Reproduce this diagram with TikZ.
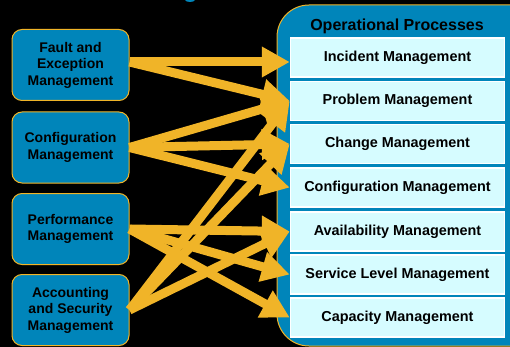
\documentclass[tikz,border=0pt]{standalone}
\usepackage{fontspec}
\setmainfont{Liberation Sans}
\usetikzlibrary{arrows.meta}
\definecolor{boxblue}{RGB}{0,133,186}
\definecolor{gold}{RGB}{240,180,40}
\definecolor{paleCyan}{RGB}{214,252,255}
\tikzset{area/.style={draw=gold, fill=boxblue, line width=1pt, rounded corners=10pt,
         minimum width=117pt, minimum height=71pt, align=center,
         font=\fontsize{14}{16.5}\selectfont\bfseries},
         process/.style={draw=white, fill=paleCyan, line width=1.5pt,
         minimum width=214pt, minimum height=39pt,
         font=\fontsize{14.4}{16}\selectfont\bfseries},
         flow/.style={draw=gold, line width=9pt, -{Triangle[length=28pt,width=29pt]}}}

\begin{document}
\begin{tikzpicture}[x=1pt,y=-1pt]
    \fill[black] (0,0) rectangle (510,347);
    \clip (0,0) rectangle (510,347);
    \useasboundingbox (0,0) rectangle (510,347);

    % cut-off title at the top
    \fill[boxblue] (190,0) ellipse[x radius=5, y radius=2];

    % operational processes
    \draw[draw=gold, fill=boxblue, line width=1pt, rounded corners=32pt] (277,5) rectangle (545,346);
    \node[font=\fontsize{16}{18}\selectfont\bfseries] (title) at (397,26) {Operational Processes};
    \node[process] (incident) at (397.5,57.5) {Incident Management};
    \node[process] (problem) at (397.5,101) {Problem Management};
    \node[process] (change) at (397.5,144) {Change Management};
    \node[process] (cfgmgmt) at (397.5,187.5) {Configuration Management};
    \node[process] (avail) at (397.5,231.5) {Availability Management};
    \node[process] (slm) at (397.5,274.5) {Service Level Management};
    \node[process] (capacity) at (397.5,317.5) {Capacity Management};

    % management areas
    \node[area] (fault) at (70.5,65) {Fault and\\Exception\\Management};
    \node[area] (config) at (70.5,147.5) {Configuration\\Management};
    \node[area] (perf) at (70.5,229) {Performance\\Management};
    \node[area] (acct) at (70.5,310) {Accounting\\and Security\\Management};

    \coordinate (faultout) at ([yshift=3pt]fault.east);
    \coordinate (incidentin) at ([yshift=-4.5pt]incident.west);

    \draw[flow] (faultout) -- (incidentin);
    \draw[flow] (faultout) -- (problem.west);
    \draw[flow] (config.east) -- (problem.west);
    \draw[flow] (config.east) -- (change.west);
    \draw[flow] (config.east) -- (cfgmgmt.west);
    \draw[flow] (perf.east) -- (avail.west);
    \draw[flow] (perf.east) -- (slm.west);
    \draw[flow] (perf.east) -- (capacity.west);
    \draw[flow] (acct.east) -- (problem.west);
    \draw[flow] (acct.east) -- (change.west);
    \draw[flow] (acct.east) -- (avail.west);
\end{tikzpicture}
\end{document}
